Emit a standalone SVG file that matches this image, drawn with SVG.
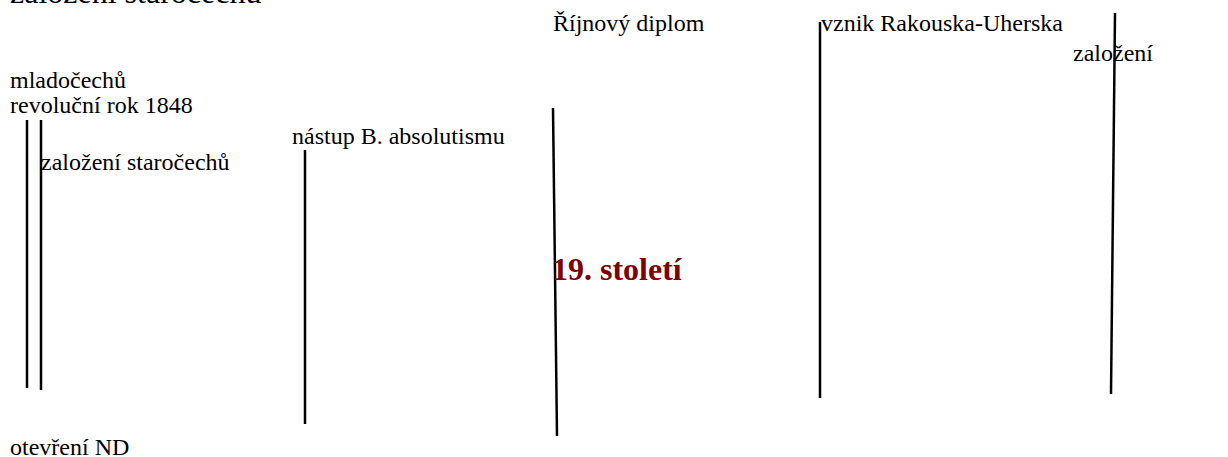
<svg xmlns="http://www.w3.org/2000/svg" width="1228" height="457" viewBox="0 0 1228 457">
<style>
.t{font-family:"Liberation Serif","Times New Roman",serif;font-size:24px;fill:#000}
.big{font-family:"Liberation Serif","Times New Roman",serif;font-size:32px;fill:#000}
.title{font-family:"Liberation Serif","Times New Roman",serif;font-size:32px;font-weight:bold;fill:#800000}
.ln{stroke:#000;stroke-width:2.5;fill:none}
</style>
<rect width="1228" height="457" fill="#fff"/>
<g id="connectors">
<line class="ln" x1="27" y1="120" x2="27" y2="388"/>
<line class="ln" x1="41" y1="120" x2="41" y2="390"/>
<line class="ln" x1="305" y1="150" x2="305" y2="424"/>
<line class="ln" x1="553" y1="108" x2="557" y2="436"/>
<line class="ln" x1="820" y1="22" x2="820" y2="398"/>
<line class="ln" x1="1115" y1="13" x2="1111" y2="394"/>
</g>
<g id="n-zalozeni-top"><text class="big" x="10" y="3">založení staročechů</text></g>
<g id="n-mladocechu"><text class="t" x="10" y="88">mladočechů</text></g>
<g id="n-revolucni"><text class="t" x="10" y="113">revoluční rok 1848</text></g>
<g id="n-zalozeni-staro"><text class="t" x="41" y="170">založení staročechů</text></g>
<g id="n-nastup"><text class="t" x="292" y="144">nástup B. absolutismu</text></g>
<g id="n-rijnovy"><text class="t" x="553" y="31">Říjnový diplom</text></g>
<g id="n-vznik"><text class="t" x="821" y="31">vznik Rakouska-Uherska</text></g>
<g id="n-zalozeni"><text class="t" x="1073" y="61">založení</text></g>
<g id="n-otevreni"><text class="t" x="10" y="455">otevření ND</text></g>
<g id="n-title"><text class="title" x="552" y="280">19. století</text></g>
</svg>
